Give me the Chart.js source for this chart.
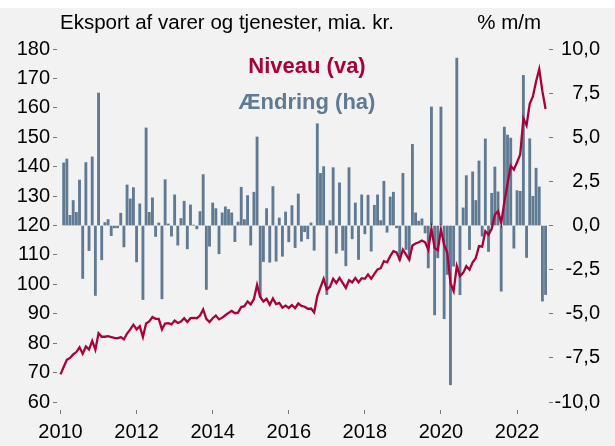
<!DOCTYPE html>
<html>
<head>
<meta charset="utf-8">
<script src="https://cdn.jsdelivr.net/npm/chart.js@4.4.0/dist/chart.umd.min.js"></script>
<style>
  html, body { margin: 0; padding: 0; background: #f2f2f2; }
  #wrap { position: relative; width: 615px; height: 446px; background: #f2f2f2; }
  #top { position: absolute; left: 0; top: 0; width: 615px; height: 8px; background: #fff; }
  canvas { position: absolute; left: 0; top: 0; }
</style>
</head>
<body>
<div id="wrap">
  <canvas id="eksport" width="615" height="446"></canvas>
  <div id="top"></div>
</div>
<script>
// Eksport af varer og tjenester, månedlig fra jan. 2010
const startAar = 2010;

// Niveau, mia. kr. (venstre akse)
const niveau = [
  69.4, 71.9, 74.4, 75.0, 76.2, 77.0, 78.6, 76.4, 78.9, 77.9, 80.8, 77.8,
  83.4, 82.2, 82.2, 82.4, 82.1, 81.8, 81.7, 82.1, 81.3, 83.3, 84.7, 86.3,
  84.7, 85.8, 82.1, 86.7, 87.4, 88.9, 88.3, 88.3, 84.7, 86.7, 86.8, 86.4,
  87.7, 86.9, 87.4, 88.5, 87.2, 88.5, 88.6, 88.5, 89.4, 91.5, 88.3, 87.2,
  88.5, 89.4, 88.1, 88.7, 89.5, 90.3, 91.0, 90.2, 90.4, 92.3, 92.6, 94.2,
  93.2, 95.0, 99.8, 95.7, 94.2, 95.1, 93.1, 95.2, 93.3, 93.7, 92.1, 92.8,
  92.0, 93.0, 91.9, 93.5, 92.7, 92.4, 91.7, 91.8, 90.5, 96.0, 99.0, 101.9,
  98.3, 99.2, 101.9, 100.5, 102.2, 100.5, 98.8, 101.4, 100.7, 102.2, 100.7, 102.1,
  101.9, 103.4, 101.9, 103.6, 105.1, 105.5, 107.9, 107.5, 109.6, 111.3, 110.9, 108.4,
  111.8, 110.1, 108.4, 113.2, 113.9, 114.3, 114.9, 114.3, 111.8, 118.9, 112.4, 111.6,
  118.6, 113.5, 110.7, 100.5, 97.7, 106.2, 102.8, 103.9, 106.2, 105.0, 107.5, 109.0,
  113.0, 112.8, 118.1, 116.9, 118.9, 123.7, 124.9, 120.9, 128.0, 134.2, 140.3, 139.0,
  141.5, 144.2, 156.4, 154.0, 161.4, 163.9, 169.0, 173.2, 165.6, 159.6
];

// Ændring, % m/m (højre akse)
const aendring = [
  null, 3.55, 3.77, 0.58, 1.42, 0.75, 2.58, -3.0, 3.57, -1.42, 3.89, -3.96,
  7.51, -1.94, 0.17, 0.34, -0.57, -0.13, -0.13, 0.70, -1.21, 2.30, 1.51, 2.15,
  -2.06, 1.23, -4.19, 5.53, 0.75, 1.57, -0.62, 0.15, -4.15, 2.6, 0.09, -0.6,
  1.74, -1.11, 0.4, 1.38, -1.32, 1.17, 0.02, -0.19, 0.79, 2.89, -3.62, -1.17,
  1.28, 0.96, -1.6, 0.72, 1.06, 0.91, 0.72, -0.91, 0.2, 2.17, 0.34, 1.7,
  -1.11, 1.89, 5.02, -4.06, -2.04, 0.96, -2.08, 2.21, -2.02, 0.43, -1.74, 0.77,
  -0.92, 1.13, -1.25, 1.79, -0.89, -0.35, -0.75, 0.15, -1.4, 5.77, 2.96, 3.34,
  -3.91, 0.28, 3.28, -1.57, 2.42, -1.4, -2.28, 3.28, -0.75, 1.28, -1.92, 1.74,
  -0.47, 1.72, -1.45, 1.15, 1.74, 0.28, 2.51, -0.38, 1.62, 1.89, -0.13, -1.96,
  2.96, -1.36, -1.92, 4.6, 0.72, 0.25, 0.38, -0.42, -2.4, 6.72, -5.06, -1.83,
  6.72, -5.28, -2.77, -9.02, -2.3, 9.49, -3.92, 1.0, 2.83, -1.36, 3.04, 1.42,
  3.66, -0.6, 4.91, -1.47, 1.83, 3.32, 1.91, -3.72, 5.58, 5.13, 4.96, -1.28,
  1.98, 1.94, 8.51, -1.81, 4.92, 1.66, 3.25, 2.19, -4.28, -3.91
];

// Aksemærker
const aarTicks = [2010, 2012, 2014, 2016, 2018, 2020, 2022];
const venstreTicks = [60, 70, 80, 90, 100, 110, 120, 130, 140, 150, 160, 170, 180];
const hoejreTicks = [-10, -7.5, -5, -2.5, 0, 2.5, 5, 7.5, 10];

const rod = '#a8023b';
const blaa = '#5f7a92';
const skrift = '"Liberation Sans", Arial, sans-serif';

// x-værdi = år + måned/12
const tid = niveau.map((v, i) => startAar + i / 12);

const tekster = {
  id: 'tekster',
  afterDraw(chart) {
    const c = chart.ctx;
    c.save();
    c.textBaseline = 'middle';
    c.fillStyle = '#000';
    c.font = '20.5px ' + skrift;
    c.textAlign = 'left';
    c.fillText('Eksport af varer og tjenester, mia. kr.', 60, 23);
    c.textAlign = 'right';
    c.fillText('% m/m', 541, 23);
    c.textAlign = 'center';
    c.font = 'bold 22px ' + skrift;
    c.fillStyle = rod;
    c.fillText('Niveau (va)', 307, 67);
    c.fillStyle = blaa;
    c.fillText('Ændring (ha)', 307, 103);
    c.restore();
  }
};

function saetTicks(liste) {
  return function (akse) {
    akse.ticks = liste.map(v => ({ value: v }));
  };
}

const ctx = document.getElementById('eksport').getContext('2d');

new Chart(ctx, {
  data: {
    datasets: [{
      type: 'bar',
      label: 'Ændring (ha)',
      data: tid.map((x, i) => ({ x: x, y: aendring[i] })),
      yAxisID: 'y2',
      backgroundColor: blaa,
      barThickness: 2.2,
      order: 1
    }, {
      type: 'line',
      label: 'Niveau (va)',
      data: tid.map((x, i) => ({ x: x, y: niveau[i] })),
      yAxisID: 'y',
      borderColor: rod,
      borderWidth: 2.3,
      pointRadius: 0,
      tension: 0,
      order: 0
    }]
  },
  options: {
    responsive: false,
    animation: false,
    layout: { padding: { top: 42, right: 15, left: 0, bottom: 0 } },
    plugins: {
      legend: { display: false },
      tooltip: { enabled: false }
    },
    scales: {
      x: {
        type: 'linear',
        offset: false,
        min: 2009.908,
        max: 2022.84,
        afterBuildTicks: saetTicks(aarTicks),
        afterFit: s => { s.height = 36; },
        grid: { offset: false, drawOnChartArea: false, drawTicks: true, tickLength: 4, color: '#777' },
        border: { display: false },
        ticks: {
          color: '#000',
          font: { family: skrift, size: 20 },
          padding: 6,
          maxRotation: 0,
          autoSkip: false,
          callback: v => String(v)
        }
      },
      y: {
        position: 'left',
        min: 57.3,
        max: 182.4,
        afterBuildTicks: saetTicks(venstreTicks),
        afterFit: s => { s.width = 57; },
        grid: { drawOnChartArea: false, drawTicks: true, tickLength: 4, color: '#777' },
        border: { display: false },
        ticks: {
          color: '#000',
          font: { family: skrift, size: 20 },
          padding: 3,
          autoSkip: false
        }
      },
      y2: {
        position: 'right',
        min: -10.45,
        max: 10.4,
        afterBuildTicks: saetTicks(hoejreTicks),
        afterFit: s => { s.width = 51; },
        grid: { drawOnChartArea: false, drawTicks: true, tickLength: 4, color: '#777' },
        border: { display: false },
        ticks: {
          color: '#000',
          font: { family: skrift, size: 20 },
          padding: 3,
          crossAlign: 'far',
          autoSkip: false,
          callback: v => v.toFixed(1).replace('.', ',')
        }
      }
    }
  },
  plugins: [tekster]
});
</script>
</body>
</html>
